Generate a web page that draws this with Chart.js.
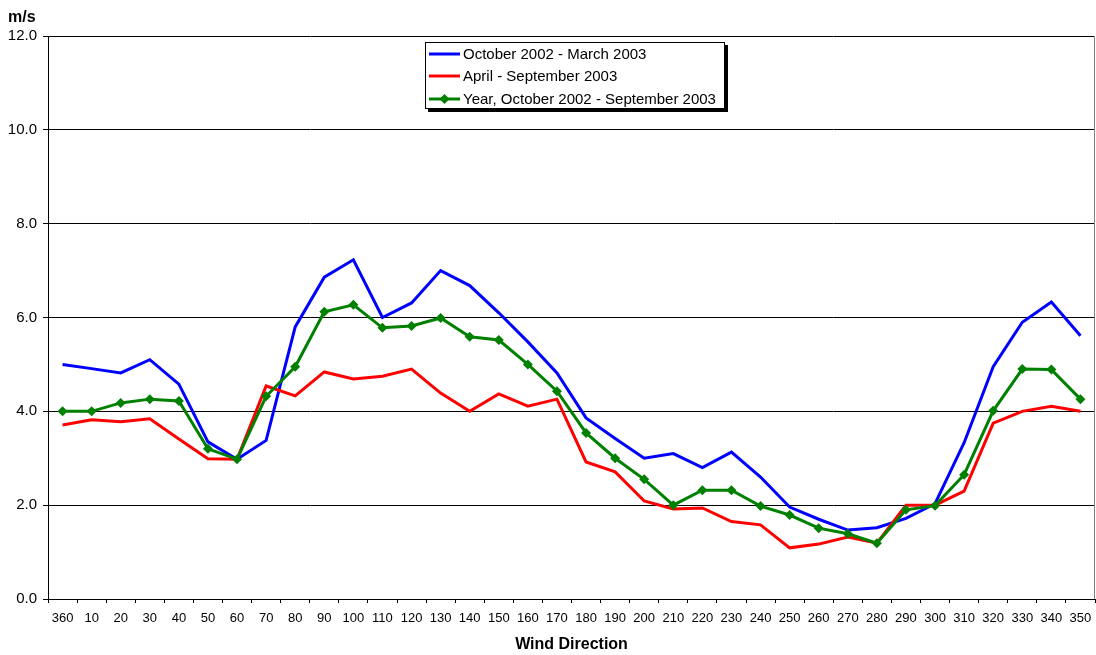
<!DOCTYPE html>
<html><head><meta charset="utf-8">
<script src="https://cdn.jsdelivr.net/npm/chart.js@4"></script>
<style>html,body{margin:0;padding:0;background:#fff;overflow:hidden}#wrap{position:relative;width:1096px;height:655px}canvas{display:block}</style>
</head><body><div id="wrap"><canvas id="c" width="1096" height="655"></canvas></div>
<script>
const directions = ['360','10','20','30','40','50','60','70','80','90','100','110','120','130','140','150','160','170','180','190','200','210','220','230','240','250','260','270','280','290','300','310','320','330','340','350'];
const winterSpeeds = [5.0,4.91,4.82,5.1,4.58,3.35,2.98,3.38,5.8,6.86,7.23,6.0,6.31,7.0,6.68,6.1,5.48,4.82,3.86,3.42,3.0,3.1,2.8,3.13,2.6,1.96,1.7,1.47,1.52,1.72,2.03,3.33,4.95,5.9,6.33,5.61];
const summerSpeeds = [3.71,3.82,3.78,3.84,3.41,2.99,2.98,4.54,4.33,4.84,4.69,4.75,4.9,4.39,4.0,4.37,4.11,4.26,2.92,2.71,2.09,1.92,1.94,1.65,1.58,1.09,1.17,1.32,1.19,2.0,2.0,2.3,3.75,4.0,4.11,4.0];
const yearSpeeds = [4.0,4.0,4.18,4.26,4.22,3.2,2.98,4.32,4.95,6.12,6.27,5.78,5.82,5.99,5.59,5.52,5.0,4.43,3.54,3.0,2.55,2.0,2.32,2.32,1.98,1.79,1.51,1.39,1.19,1.9,1.99,2.65,4.01,4.9,4.89,4.26];
const seriesNames = ['October 2002 - March 2003','April - September 2003','Year, October 2002 - September 2003'];
const seriesColors = ['#0000ff','#ff0000','#008000'];
const yMin = 0, yMax = 12, yStep = 2;
const yUnit = 'm/s';
const xTitle = 'Wind Direction';
const FONT = 'Arial, "Liberation Sans", sans-serif';

const decorPlugin = {
  id: 'decor',
  afterDraw(chart) {
    const ctx = chart.ctx, a = chart.chartArea;
    ctx.save();
    ctx.strokeStyle = '#808080'; ctx.lineWidth = 1;
    ctx.beginPath(); ctx.moveTo(a.right - 0.5, a.top); ctx.lineTo(a.right - 0.5, a.bottom); ctx.stroke();
    ctx.fillStyle = '#000'; ctx.font = 'bold 16px ' + FONT;
    ctx.textBaseline = 'middle'; ctx.textAlign = 'left';
    ctx.fillText(yUnit, 8, 18);
    const lx = 425, ly = 42, lw = 300, lh = 67;
    ctx.fillStyle = '#000'; ctx.fillRect(lx + 3, ly + 3, lw, lh);
    ctx.fillStyle = '#fff'; ctx.fillRect(lx, ly, lw, lh);
    ctx.strokeStyle = '#000'; ctx.lineWidth = 1;
    ctx.strokeRect(lx + 0.5, ly + 0.5, lw - 1, lh - 1);
    ctx.font = '15px ' + FONT;
    const rows = [54, 76, 99];
    chart.data.datasets.forEach((ds, i) => {
      const y = rows[i];
      ctx.strokeStyle = ds.borderColor; ctx.lineWidth = 3;
      ctx.beginPath(); ctx.moveTo(429, y); ctx.lineTo(460, y); ctx.stroke();
      if (ds.pointRadius > 0) {
        ctx.fillStyle = ds.borderColor;
        ctx.beginPath(); ctx.moveTo(444.5, y - 5); ctx.lineTo(449.5, y); ctx.lineTo(444.5, y + 5); ctx.lineTo(439.5, y); ctx.closePath(); ctx.fill();
      }
      ctx.fillStyle = '#000'; ctx.textBaseline = 'middle';
      ctx.fillText(ds.label, 463, y + 1);
    });
    ctx.restore();
  }
};

new Chart(document.getElementById('c'), {
  type: 'line',
  data: {
    labels: directions,
    datasets: [
      { label: seriesNames[0], data: winterSpeeds, borderColor: seriesColors[0], backgroundColor: seriesColors[0], borderWidth: 3, pointRadius: 0, tension: 0, order: 3 },
      { label: seriesNames[1], data: summerSpeeds, borderColor: seriesColors[1], backgroundColor: seriesColors[1], borderWidth: 3, pointRadius: 0, tension: 0, order: 2 },
      { label: seriesNames[2], data: yearSpeeds, borderColor: seriesColors[2], backgroundColor: seriesColors[2], borderWidth: 3, pointRadius: 5, pointStyle: 'rectRot', pointBorderWidth: 0, tension: 0, order: 1 }
    ]
  },
  options: {
    responsive: false, animation: false, devicePixelRatio: 1,
    layout: { autoPadding: false, padding: { top: 36, right: 1, left: 0, bottom: 0 } },
    plugins: { legend: { display: false }, tooltip: { enabled: false } },
    scales: {
      x: {
        type: 'category', offset: true,
        grid: { offset: true, drawOnChartArea: false, drawTicks: true, tickLength: 4, color: '#000' },
        border: { color: '#000', width: 1 },
        ticks: { color: '#000', font: { size: 13, family: FONT }, padding: 8, maxRotation: 0, autoSkip: false },
        title: { display: true, text: xTitle, color: '#000', font: { size: 16, weight: 'bold', family: FONT }, padding: { top: 0, bottom: 1 } },
        afterFit(s) { s.height = 56; s.paddingLeft = 0; s.paddingRight = 0; }
      },
      y: {
        min: yMin, max: yMax,
        ticks: { stepSize: yStep, color: '#000', font: { size: 15, family: FONT }, padding: 6, callback: v => Number(v).toFixed(1) },
        grid: { color: '#000', tickLength: 5 },
        border: { color: '#000', width: 1 },
        afterFit(s) { s.width = 48; }
      }
    }
  },
  plugins: [decorPlugin]
});
</script></body></html>
